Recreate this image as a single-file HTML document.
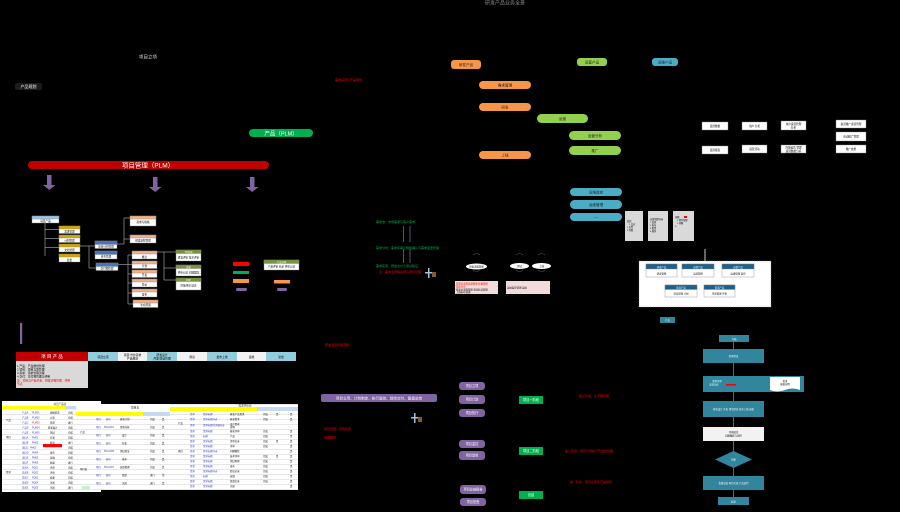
<!DOCTYPE html>
<html><head><meta charset="utf-8">
<style>
html,body{margin:0;padding:0;background:#000;}
svg{display:block;}
text{font-family:"Liberation Sans","Noto Sans CJK SC",sans-serif;}
</style></head><body>
<svg width="900" height="512" viewBox="0 0 900 512" xmlns="http://www.w3.org/2000/svg">
<defs>
<pattern id="rows" x="0" y="0" width="6" height="5" patternUnits="userSpaceOnUse">
<rect width="6" height="5" fill="#fff"/><line x1="0" y1="4.8" x2="6" y2="4.8" stroke="#bbb" stroke-width="0.4"/>
</pattern>
</defs>
<rect width="900" height="512" fill="#000"/>

<!-- title -->
<text x="505" y="4.5" font-size="5" fill="#8a8a8a" text-anchor="middle">研发产品业务全景</text>

<!-- top left -->
<text x="148" y="58.5" font-size="4.5" fill="#ddd" text-anchor="middle">项目立项</text>
<rect x="15" y="83" width="27" height="7" rx="2" fill="#1c1c1c"/>
<text x="28.5" y="88" font-size="4" fill="#fff" text-anchor="middle">产品规划</text>

<rect x="249" y="129" width="64" height="8" rx="4" fill="#00b050"/>
<text x="281" y="135.3" font-size="5.5" fill="#fff" text-anchor="middle">产品（PLM）</text>

<rect x="28" y="161" width="241" height="8" rx="4" fill="#c00000"/>
<text x="148" y="167.3" font-size="6.5" fill="#fff" text-anchor="middle">项目管理（PLM）</text>

<g fill="#8064a2">
<rect x="47" y="175" width="4.5" height="10"/><polygon points="43,185 55.5,185 49.2,190"/>
<rect x="153" y="177" width="4.5" height="10"/><polygon points="149,187 161.5,187 155.2,192"/>
<rect x="250" y="177" width="4.5" height="10"/><polygon points="246,187 258.5,187 252.2,192"/>
</g>

<!-- tree lines -->
<g stroke="#8a8a8a" stroke-width="0.8" fill="none">
<line x1="45" y1="223" x2="45" y2="256"/>
<line x1="45" y1="229.5" x2="59" y2="229.5"/>
<line x1="45" y1="238.5" x2="59" y2="238.5"/>
<line x1="45" y1="247.5" x2="59" y2="247.5"/>
<line x1="80" y1="246" x2="95" y2="246"/>
<line x1="89" y1="246" x2="89" y2="268"/>
<line x1="89" y1="268" x2="96" y2="268"/>
<line x1="117" y1="244" x2="124" y2="244"/>
<line x1="124" y1="218" x2="124" y2="244"/>
<line x1="124" y1="218" x2="130" y2="218"/>
<line x1="124" y1="239" x2="130" y2="239"/>
<line x1="117" y1="264.5" x2="132" y2="264.5"/>
<line x1="128" y1="255" x2="128" y2="304"/>
<line x1="128" y1="255" x2="132" y2="255"/>
<line x1="128" y1="274" x2="132" y2="274"/>
<line x1="128" y1="283" x2="132" y2="283"/>
<line x1="128" y1="293" x2="132" y2="293"/>
<line x1="128" y1="304" x2="133" y2="304"/>
<line x1="157" y1="252" x2="176" y2="252"/>
<line x1="164" y1="252" x2="164" y2="280"/>
<line x1="164" y1="268" x2="176" y2="268"/>
<line x1="164" y1="280" x2="176" y2="280"/>
</g>

<!-- tree boxes -->
<g stroke="#7f7f7f" stroke-width="0.4">
<rect x="32" y="216" width="27" height="7" fill="#fff"/><rect x="32" y="216" width="27" height="3" fill="#9dc3e6"/>
<rect x="59" y="226" width="21" height="7.5" fill="#fff"/><rect x="59" y="226" width="21" height="3" fill="#d4a700"/>
<rect x="59" y="235" width="21" height="7.5" fill="#fff"/><rect x="59" y="235" width="21" height="3" fill="#d4a700"/>
<rect x="59" y="244" width="21" height="8" fill="#fff"/><rect x="59" y="244" width="21" height="3" fill="#d4a700"/>
<rect x="59" y="254" width="21" height="8" fill="#fff"/><rect x="59" y="254" width="21" height="3" fill="#d4a700"/>
<rect x="95" y="241" width="22" height="7.5" fill="#fff"/><rect x="95" y="241" width="22" height="3.5" fill="#4472c4"/>
<rect x="95" y="251" width="22" height="8" fill="#fff"/><rect x="95" y="251" width="22" height="3.5" fill="#4472c4"/>
<rect x="96" y="263" width="22" height="7.5" fill="#fff"/><rect x="96" y="263" width="22" height="3.5" fill="#4472c4"/>
<rect x="130" y="216" width="26" height="10" fill="#fff"/><rect x="130" y="216" width="26" height="3" fill="#f4b183"/>
<rect x="130" y="235" width="26" height="8" fill="#fff"/><rect x="130" y="235" width="26" height="3" fill="#f4b183"/>
<rect x="132" y="251" width="25" height="8" fill="#fff"/><rect x="132" y="251" width="25" height="3" fill="#f4b183"/>
<rect x="132" y="261" width="25" height="7.5" fill="#fff"/><rect x="132" y="261" width="25" height="3" fill="#f4b183"/>
<rect x="132" y="270" width="25" height="7.5" fill="#fff"/><rect x="132" y="270" width="25" height="3" fill="#f4b183"/>
<rect x="132" y="279" width="25" height="8" fill="#fff"/><rect x="132" y="279" width="25" height="3" fill="#f4b183"/>
<rect x="132" y="289" width="25" height="8" fill="#fff"/><rect x="132" y="289" width="25" height="3" fill="#f4b183"/>
<rect x="133" y="300" width="25" height="7.5" fill="#fff"/><rect x="133" y="300" width="25" height="3" fill="#f4b183"/>
<rect x="176" y="250" width="25" height="11" fill="#fff"/><rect x="176" y="250" width="25" height="3.5" fill="#77933c"/>
<rect x="176" y="265" width="25" height="11" fill="#fff"/><rect x="176" y="265" width="25" height="3.5" fill="#77933c"/>
<rect x="176" y="278" width="25" height="12" fill="#fff"/><rect x="176" y="278" width="25" height="3.5" fill="#77933c"/>
<rect x="264" y="260" width="35" height="10" fill="#fff"/><rect x="264" y="260" width="35" height="3.5" fill="#77933c"/>
</g>
<g font-size="2.6" fill="#000" text-anchor="middle">
<text x="45.5" y="222">项目产品</text>
<text x="69.5" y="232.5">需求管理</text><text x="69.5" y="241.5">计划管理</text><text x="69.5" y="251">文档管理</text><text x="69.5" y="261">变更</text>
<text x="106" y="247.5">项目计划管理</text><text x="106" y="257.5">任务管理</text><text x="107" y="269.5">交付物管理</text>
<text x="143" y="223">需求与规格</text><text x="143" y="241.5">研发流程管理</text>
<text x="144.5" y="258">概念</text><text x="144.5" y="267">计划</text><text x="144.5" y="276">开发</text><text x="144.5" y="285.5">验证</text><text x="144.5" y="295.5">发布</text><text x="145.5" y="306">生命周期</text>
<text x="188.5" y="258.5">研发评审 技术评审</text><text x="188.5" y="273.5">评审记录 问题跟踪</text><text x="188.5" y="286.5">决策评审 结论</text>
<text x="281.5" y="267.5">产品评审 结论 评审记录</text>
</g>
<g font-size="2.4" fill="#fff" text-anchor="middle">
<text x="188.5" y="252.8">TR评审</text><text x="188.5" y="267.8">评审</text><text x="188.5" y="280.8">DCP</text><text x="281.5" y="262.8">产品评审</text>
</g>

<!-- legend -->
<rect x="233" y="262" width="16" height="4" fill="#ff0000"/>
<rect x="233" y="271" width="16" height="3" fill="#00b050"/>
<rect x="233" y="279" width="16" height="4" fill="#f79646"/>
<rect x="236" y="288" width="11" height="3" rx="1.5" fill="#8064a2"/>
<rect x="274" y="280" width="16" height="3.5" fill="#f79646"/>
<rect x="277" y="288" width="10" height="3" rx="1.5" fill="#8064a2"/>
<rect x="20" y="323" width="2.2" height="21" fill="#8064a2"/>

<!-- header row -->
<rect x="16" y="352" width="72" height="9" fill="#c00000"/>
<text x="52" y="358.2" font-size="4.5" fill="#fff" text-anchor="middle">项 目 产 品</text>
<rect x="88" y="352" width="30" height="9" fill="#92cddc"/>
<rect x="118" y="352" width="29" height="9" fill="#f2f2f2"/>
<rect x="147" y="352" width="30" height="9" fill="#92cddc"/>
<rect x="177" y="352" width="30" height="9" fill="#f2f2f2"/>
<rect x="207" y="352" width="30" height="9" fill="#92cddc"/>
<rect x="237" y="352" width="29" height="9" fill="#f2f2f2"/>
<rect x="266" y="352" width="30" height="9" fill="#92cddc"/>
<g font-size="2.8" fill="#000" text-anchor="middle">
<text x="103" y="357.8">项目立项</text><text x="132.5" y="356">项目计划/需求</text><text x="132.5" y="359.5">产品规划</text>
<text x="162" y="356">研发设计</text><text x="162" y="359.5">开发/验证管理</text>
<text x="192" y="357.8">测试</text><text x="222" y="357.8">发布上线</text><text x="251.5" y="357.8">运维</text><text x="281" y="357.8">复盘</text>
</g>
<rect x="16" y="361" width="72" height="27" fill="#d9d9d9"/>
<g font-size="2.8">
<text x="17" y="367" fill="#000">1.产品：产品规划管理</text>
<text x="17" y="370.5" fill="#000">2.项目：项目立项管理</text>
<text x="17" y="374" fill="#000">3.需求：需求管理流程</text>
<text x="17" y="377.5" fill="#000">4.交付：交付物管理与评审</text>
<text x="17" y="381.5" fill="#ff0000">注：项目与产品关系，研发流程管理，评审</text>
<text x="17" y="385" fill="#ff0000">节点</text>
</g>

<!-- table 1 -->
<rect x="2" y="401" width="99" height="91" fill="#fff"/>
<rect x="2" y="410" width="74" height="82" fill="url(#rows)"/>
<text x="60" y="404.8" font-size="2.6" fill="#333" text-anchor="middle">项目产品表</text>
<rect x="2" y="406" width="63" height="3.5" fill="#ffff00"/>
<rect x="65" y="406" width="11" height="3.5" fill="#c5d9f1"/>
<rect x="43" y="444" width="19" height="3.2" fill="#ff0000"/>
<g font-size="2.4">
<text x="22" y="413.5" fill="#33c">产品A</text><text x="32" y="413.5" fill="#33c">PLM01</text><text x="50" y="413.5" fill="#000">规划需求</text><text x="68" y="413.5" fill="#000">完成</text>
<text x="22" y="418.5" fill="#33c">产品B</text><text x="32" y="418.5" fill="#33c">PLM02</text><text x="50" y="418.5" fill="#000">立项</text><text x="68" y="418.5" fill="#000">完成</text>
<text x="6" y="421" fill="#000">产品</text>
<text x="22" y="423.5" fill="#33c">产品C</text><text x="32" y="423.5" fill="#f00">PLM03</text><text x="50" y="423.5" fill="#000">需求</text><text x="68" y="423.5" fill="#000">进行</text>
<text x="22" y="428.5" fill="#33c">产品D</text><text x="32" y="428.5" fill="#33c">PLM04</text><text x="48" y="428.5" fill="#000">研发设计</text><text x="68" y="428.5" fill="#000">完成</text>
<text x="22" y="433.5" fill="#33c">产品E</text><text x="32" y="433.5" fill="#33c">PLM05</text><text x="50" y="433.5" fill="#000">测试</text><text x="68" y="433.5" fill="#000">完成</text>
<text x="6" y="438" fill="#000">项目</text>
<text x="22" y="438.5" fill="#33c">项目A</text><text x="32" y="438.5" fill="#33c">PM01</text><text x="50" y="438.5" fill="#000">开发</text><text x="68" y="438.5" fill="#000">完成</text>
<text x="22" y="443.5" fill="#33c">项目B</text><text x="32" y="443.5" fill="#33c">PM02</text><text x="50" y="443.5" fill="#000">验证</text><text x="68" y="443.5" fill="#000">进行</text>
<text x="22" y="448.5" fill="#33c">项目C</text><text x="30" y="448.5" fill="#33c">PM03</text><text x="68" y="448.5" fill="#000">完成</text>
<text x="22" y="453.5" fill="#33c">项目D</text><text x="32" y="453.5" fill="#33c">PM04</text><text x="50" y="453.5" fill="#000">发布</text><text x="68" y="453.5" fill="#000">完成</text>
<text x="22" y="458.5" fill="#33c">项目E</text><text x="32" y="458.5" fill="#33c">PM05</text><text x="50" y="458.5" fill="#000">运维</text><text x="68" y="458.5" fill="#000">完成</text>
<text x="22" y="463.5" fill="#33c">项目F</text><text x="32" y="463.5" fill="#33c">PM06</text><text x="50" y="463.5" fill="#000">复盘</text><text x="68" y="463.5" fill="#000">进行</text>
<text x="6" y="473" fill="#000">需求</text>
<text x="22" y="468.5" fill="#33c">需求A</text><text x="32" y="468.5" fill="#33c">RQ01</text><text x="50" y="468.5" fill="#000">评审</text><text x="68" y="468.5" fill="#000">完成</text>
<text x="22" y="473.5" fill="#33c">需求B</text><text x="32" y="473.5" fill="#33c">RQ02</text><text x="50" y="473.5" fill="#000">评审</text><text x="68" y="473.5" fill="#000">完成</text>
<text x="22" y="478.5" fill="#33c">需求C</text><text x="32" y="478.5" fill="#33c">RQ03</text><text x="50" y="478.5" fill="#000">变更</text><text x="68" y="478.5" fill="#000">完成</text>
<text x="22" y="483.5" fill="#33c">需求D</text><text x="32" y="483.5" fill="#33c">RQ04</text><text x="50" y="483.5" fill="#000">关闭</text><text x="68" y="483.5" fill="#000">完成</text>
<text x="22" y="488.5" fill="#33c">需求E</text><text x="32" y="488.5" fill="#33c">RQ05</text><text x="50" y="488.5" fill="#000">关闭</text><text x="68" y="488.5" fill="#000">进行</text>
</g>

<!-- table 2 -->
<rect x="101" y="404" width="69" height="8" fill="#fff"/>
<rect x="76" y="411" width="94" height="79" fill="url(#rows)"/>
<text x="135" y="408.5" font-size="2.8" fill="#333" text-anchor="middle">项目表</text>
<rect x="76" y="412" width="67" height="4" fill="#ffff00"/>
<rect x="143" y="412" width="27" height="4" fill="#c5d9f1"/>
<g font-size="2.4">
<text x="96" y="420" fill="#33c">项目</text><text x="106" y="420" fill="#33c">编号</text><text x="120" y="420" fill="#000">研发计划</text><text x="150" y="420" fill="#000">完成</text><text x="162" y="420" fill="#000">是</text>
<text x="96" y="428" fill="#33c">项目</text><text x="104" y="428" fill="#33c">PM-A001</text><text x="120" y="428" fill="#000">需求分析</text><text x="150" y="428" fill="#000">完成</text><text x="162" y="428" fill="#000">是</text>
<text x="80" y="433" fill="#000">产品</text>
<text x="96" y="436" fill="#33c">项目</text><text x="106" y="436" fill="#33c">编号</text><text x="122" y="436" fill="#000">设计</text><text x="150" y="436" fill="#000">完成</text><text x="162" y="436" fill="#000">是</text>
<text x="96" y="444" fill="#33c">项目</text><text x="106" y="444" fill="#33c">编号</text><text x="122" y="444" fill="#000">开发</text><text x="150" y="444" fill="#000">完成</text><text x="162" y="444" fill="#000">是</text>
<text x="96" y="452" fill="#33c">项目</text><text x="104" y="452" fill="#33c">PM-A005</text><text x="120" y="452" fill="#000">测试验证</text><text x="150" y="452" fill="#000">完成</text><text x="162" y="452" fill="#000">是</text>
<text x="96" y="460" fill="#33c">项目</text><text x="106" y="460" fill="#33c">编号</text><text x="122" y="460" fill="#000">发布</text><text x="150" y="460" fill="#000">完成</text><text x="162" y="460" fill="#000">是</text>
<text x="80" y="470" fill="#000">项目表</text>
<text x="96" y="468" fill="#33c">项目</text><text x="104" y="468" fill="#33c">PM-A007</text><text x="120" y="468" fill="#000">运维管理</text><text x="150" y="468" fill="#000">完成</text><text x="162" y="468" fill="#000">是</text>
<text x="96" y="476" fill="#33c">项目</text><text x="106" y="476" fill="#33c">编号</text><text x="122" y="476" fill="#000">复盘</text><text x="150" y="476" fill="#000">进行</text><text x="162" y="476" fill="#000">否</text>
<text x="96" y="484" fill="#33c">项目</text><text x="106" y="484" fill="#33c">编号</text><text x="122" y="484" fill="#000">关闭</text><text x="150" y="484" fill="#000">进行</text><text x="162" y="484" fill="#000">否</text>
</g>
<rect x="82" y="486" width="8" height="3" fill="#c6efce"/>

<!-- table 3 -->
<rect x="170" y="404" width="128" height="86" fill="url(#rows)"/>
<text x="245" y="406.6" font-size="2.6" fill="#333" text-anchor="middle">需求评审表</text>
<rect x="170" y="407" width="87" height="4" fill="#ffff00"/>
<rect x="257" y="407" width="41" height="4" fill="#c5d9f1"/>
<g font-size="2.4">
<text x="190" y="415" fill="#33c">需求</text><text x="203" y="415" fill="#33c">需求标题</text><text x="230" y="415" fill="#000">研发产品需求</text><text x="263" y="415" fill="#000">完成</text><text x="276" y="415" fill="#000">是</text><text x="290" y="415" fill="#000">是</text>
<text x="190" y="420" fill="#33c">需求</text><text x="203" y="420" fill="#33c">需求标题内容</text><text x="230" y="420" fill="#000">研发需求</text><text x="263" y="420" fill="#000">完成</text><text x="290" y="420" fill="#000">是</text>
<text x="178" y="424" fill="#000">产品</text>
<text x="190" y="426" fill="#33c">需求</text><text x="203" y="426" fill="#33c">需求标题的详细内容</text><text x="230" y="425" fill="#000">设计需求</text><text x="230" y="428" fill="#000">说明</text>
<text x="190" y="432" fill="#33c">需求</text><text x="203" y="432" fill="#33c">需求标题</text><text x="230" y="432" fill="#000">研发评审</text><text x="263" y="432" fill="#000">完成</text><text x="290" y="432" fill="#000">是</text>
<text x="190" y="437" fill="#33c">需求</text><text x="203" y="437" fill="#33c">标题</text><text x="230" y="437" fill="#000">产品</text><text x="263" y="437" fill="#000">完成</text><text x="290" y="437" fill="#000">是</text>
<text x="190" y="442" fill="#33c">需求</text><text x="203" y="442" fill="#33c">需求标题</text><text x="230" y="442" fill="#000">评审记录</text><text x="263" y="442" fill="#000">完成</text><text x="276" y="442" fill="#000">是</text><text x="290" y="442" fill="#000">是</text>
<text x="190" y="447" fill="#33c">需求</text><text x="203" y="447" fill="#33c">需求标题</text><text x="230" y="447" fill="#000">评审</text><text x="263" y="447" fill="#000">完成</text><text x="290" y="447" fill="#000">是</text>
<text x="178" y="452" fill="#000">项目</text>
<text x="190" y="452" fill="#33c">需求</text><text x="203" y="452" fill="#33c">需求标题内容</text><text x="230" y="452" fill="#000">问题跟踪</text><text x="290" y="452" fill="#000">是</text>
<text x="190" y="457" fill="#33c">需求</text><text x="203" y="457" fill="#33c">需求标题</text><text x="230" y="457" fill="#000">技术评审</text><text x="263" y="457" fill="#000">完成</text><text x="276" y="457" fill="#000">是</text><text x="290" y="457" fill="#000">是</text>
<text x="190" y="462" fill="#33c">需求</text><text x="203" y="462" fill="#33c">需求标题</text><text x="230" y="462" fill="#000">测试用例</text><text x="263" y="462" fill="#000">完成</text><text x="290" y="462" fill="#000">是</text>
<text x="190" y="467" fill="#33c">需求</text><text x="203" y="467" fill="#33c">需求标题</text><text x="230" y="467" fill="#000">发布</text><text x="263" y="467" fill="#000">完成</text><text x="290" y="467" fill="#000">是</text>
<text x="190" y="472" fill="#33c">需求</text><text x="203" y="472" fill="#33c">需求标题内容</text><text x="230" y="472" fill="#000">验证记录</text><text x="263" y="472" fill="#000">完成</text><text x="290" y="472" fill="#000">是</text>
<text x="190" y="477" fill="#33c">需求</text><text x="203" y="477" fill="#33c">标题</text><text x="230" y="477" fill="#000">运维</text><text x="263" y="477" fill="#000">完成</text><text x="290" y="477" fill="#000">是</text>
<text x="190" y="482" fill="#33c">需求</text><text x="203" y="482" fill="#33c">需求标题</text><text x="230" y="482" fill="#000">复盘记录</text><text x="263" y="482" fill="#000">完成</text><text x="290" y="482" fill="#000">是</text>
<text x="190" y="487" fill="#33c">需求</text><text x="203" y="487" fill="#33c">需求标题</text><text x="230" y="487" fill="#000">关闭</text><text x="290" y="487" fill="#000">是</text>
</g>

<!-- middle column -->
<text x="335" y="81" font-size="3" fill="#ff0000">需求来源与产品规划</text>
<g font-size="3" fill="#00b050">
<text x="376" y="223.2">需求池：市场需求与客户需求</text>
<text x="376" y="249.2">需求分析：需求评审与规格确认与需求变更管理</text>
<text x="376" y="267.2">需求实现：研发交付与测试验证</text>
</g>
<text x="379" y="272.8" font-size="3" fill="#ff0000">注：需求全流程追溯与闭环管理</text>
<g stroke="#5a5070" stroke-width="1">
<line x1="403.5" y1="226" x2="403.5" y2="242"/><line x1="410" y1="226" x2="410" y2="242"/>
<line x1="403.5" y1="249" x2="403.5" y2="263"/><line x1="410" y1="249" x2="410" y2="263"/>
</g>
<g>
<rect x="428" y="268" width="1.5" height="10" fill="#9dc3e6"/><rect x="425" y="272" width="7" height="1.5" fill="#9dc3e6"/><rect x="432" y="272" width="4" height="5" fill="#8b5a2b"/>
<rect x="414" y="413" width="1.5" height="10" fill="#9dc3e6"/><rect x="411" y="417" width="7" height="1.5" fill="#9dc3e6"/><rect x="418" y="417" width="4" height="5" fill="#8b5a2b"/>
</g>
<text x="325" y="346" font-size="3" fill="#ff0000">研发项目管理流程</text>
<rect x="321" y="394" width="116" height="8" rx="2" fill="#8064a2"/>
<text x="379" y="399.5" font-size="3.6" fill="#fff" text-anchor="middle">项目立项、计划制定、执行监控、验收交付、复盘总结</text>
<text x="324" y="430" font-size="3" fill="#ff0000">项目管理，风险管控</text>
<text x="324" y="438.5" font-size="3" fill="#ff0000">进度跟踪</text>

<!-- center top pills -->
<g font-size="3.6" fill="#222" text-anchor="middle">
<rect x="451" y="60" width="30" height="9" rx="3" fill="#f79646"/><text x="466" y="65.8">研发产品</text>
<rect x="577" y="58" width="30" height="8" rx="3" fill="#92d050"/><text x="592" y="63.5">运营产品</text>
<rect x="652" y="58" width="26" height="8" rx="3" fill="#4bacc6"/><text x="665" y="63.5">运维产品</text>
<rect x="479" y="81" width="52" height="8" rx="4" fill="#f79646"/><text x="505" y="86.5">需求管理</text>
<rect x="479" y="103" width="52" height="8" rx="4" fill="#f79646"/><text x="505" y="108.5">研发</text>
<rect x="479" y="151" width="52" height="8" rx="4" fill="#f79646"/><text x="505" y="156.5">上线</text>
<rect x="537" y="114" width="51" height="9" rx="4.5" fill="#92d050"/><text x="562.5" y="120">运营</text>
<rect x="569" y="131" width="52" height="9" rx="4.5" fill="#92d050"/><text x="595" y="137">运营分析</text>
<rect x="569" y="146" width="52" height="9" rx="4.5" fill="#92d050"/><text x="595" y="152">推广</text>
<rect x="570" y="188" width="52" height="8" rx="4" fill="#4bacc6"/><text x="596" y="193.5">运维监控</text>
<rect x="570" y="200" width="52" height="9" rx="4.5" fill="#4bacc6"/><text x="596" y="206">运维管理</text>
<rect x="570" y="213" width="52" height="8" rx="4" fill="#4bacc6"/><text x="596" y="218.5">—</text>
</g>

<!-- gray boxes -->
<rect x="625" y="211" width="18" height="30" fill="#d9d9d9"/>
<rect x="648" y="211" width="20" height="30" fill="#d9d9d9"/>
<rect x="673" y="211" width="21" height="30" fill="#d9d9d9"/>
<g font-size="2.2" fill="#000">
<text x="627" y="222">监控：</text><text x="629" y="225">1.日志</text><text x="627" y="228">2.告警</text><text x="627" y="231">3.性能</text>
<text x="650" y="220">运维管理内容</text><text x="650" y="223">1.变更</text><text x="650" y="226">2.发布</text><text x="650" y="229">3.配置</text><text x="650" y="232">4.备份</text>
<text x="675" y="218">问题</text><text x="677" y="221">1.事件管理</text><text x="677" y="224">2.问题</text><text x="675" y="227">3.</text>
</g>
<rect x="684" y="216" width="3" height="2" fill="#ff0000"/>

<!-- top right white boxes -->
<g fill="#fff" stroke="#888" stroke-width="0.4">
<rect x="702" y="122" width="26" height="8"/><rect x="742" y="122" width="25" height="8"/><rect x="781" y="121" width="25" height="9"/>
<rect x="836" y="120" width="30" height="8"/><rect x="836" y="132" width="30" height="9"/><rect x="836" y="145" width="30" height="8"/>
<rect x="702" y="146" width="26" height="8"/><rect x="742" y="145" width="25" height="8"/><rect x="781" y="145" width="25" height="8"/>
</g>
<g font-size="2.6" fill="#000" text-anchor="middle">
<text x="715" y="127">运营数据</text><text x="754.5" y="127">用户 分析</text><text x="793.5" y="125">用户运营管理</text><text x="793.5" y="128.5">分析</text>
<text x="851" y="125">渠道推广运营管理</text><text x="851" y="137.5">活动推广管理</text><text x="851" y="150">推广效果</text>
<text x="715" y="151">运营报表</text><text x="754.5" y="150">运营活动</text><text x="793.5" y="148.5">内容运营 管理</text><text x="793.5" y="152">运营数据分析</text>
</g>

<!-- ellipses -->
<g stroke="#555" stroke-width="0.6" fill="none">
<path d="M473 255 Q476.5 252 480 255"/><path d="M473 270 Q476.5 273 480 270"/>
<path d="M516 255 Q519.5 252 523 255"/><path d="M516 270 Q519.5 273 523 270"/>
<path d="M538 255 Q541.5 252 545 255"/><path d="M538 270 Q541.5 273 545 270"/>
</g>
<ellipse cx="476.5" cy="266.5" rx="10.5" ry="3" fill="#fff"/>
<ellipse cx="519.5" cy="266" rx="9.5" ry="3" fill="#fff"/>
<ellipse cx="541.5" cy="266" rx="9.5" ry="3" fill="#fff"/>
<g font-size="2.4" fill="#000" text-anchor="middle">
<text x="476.5" y="267.4">研发流程管理</text><text x="519.5" y="267">测试</text><text x="541.5" y="267">上线</text>
</g>
<rect x="455" y="281" width="43" height="13" fill="#f2dcdb"/>
<rect x="506" y="281" width="44" height="13" fill="#f2dcdb"/>
<g font-size="2.4">
<text x="456" y="284.5" fill="#ff0000">需求全流程追溯管理 质量管理</text>
<text x="456" y="287.5" fill="#ff0000">需求评审</text>
<text x="456" y="290.5" fill="#000">研发全流程管理 测试验证管理</text>
<text x="456" y="293" fill="#000">上线发布管理</text>
<text x="507" y="288.5" fill="#000">运维监控管理 运维</text>
</g>

<!-- dashed box -->
<line x1="705" y1="249" x2="705" y2="261" stroke="#aaa" stroke-width="1.2"/>
<rect x="639" y="261" width="132" height="46" fill="#fff" stroke="#888" stroke-width="0.5" stroke-dasharray="1.5,1"/>
<g stroke="#888" stroke-width="0.4">
<rect x="646" y="264" width="31" height="13" fill="#fff"/><rect x="646" y="264" width="31" height="5" fill="#1f5f8b"/>
<rect x="682" y="264" width="32" height="13" fill="#fff"/><rect x="682" y="264" width="32" height="5" fill="#1f5f8b"/>
<rect x="722" y="264" width="32" height="13" fill="#fff"/><rect x="722" y="264" width="32" height="5" fill="#1f5f8b"/>
<rect x="665" y="285" width="32" height="12" fill="#fff"/><rect x="665" y="285" width="32" height="4.5" fill="#1f5f8b"/>
<rect x="704" y="285" width="31" height="12" fill="#fff"/><rect x="704" y="285" width="31" height="4.5" fill="#1f5f8b"/>
</g>
<g font-size="2.4" text-anchor="middle">
<text x="661.5" y="267.8" fill="#fff">研发产品</text><text x="698" y="267.8" fill="#fff">运营产品</text><text x="738" y="267.8" fill="#fff">运维产品</text>
<text x="681" y="288.5" fill="#fff">项目产品</text><text x="719.5" y="288.5" fill="#fff">需求产品</text>
<text x="661.5" y="274.5" fill="#000">研发管理</text><text x="698" y="274.5" fill="#000">运营管理</text><text x="738" y="274.5" fill="#000">运维管理 监控</text>
<text x="681" y="294.5" fill="#000">项目管理 计划</text><text x="719.5" y="294.5" fill="#000">需求管理 评审</text>
</g>
<rect x="660" y="317" width="15" height="6" fill="#31859c"/>
<text x="667.5" y="321" font-size="2.4" fill="#fff" text-anchor="middle">产品</text>

<!-- bottom center -->
<g font-size="3.2" fill="#fff" text-anchor="middle">
<rect x="459" y="382" width="26" height="8" rx="3" fill="#8064a2"/><text x="472" y="387.2">项目立项</text>
<rect x="459" y="395" width="26" height="9" rx="3" fill="#8064a2"/><text x="472" y="400.7">项目计划</text>
<rect x="459" y="409" width="26" height="8" rx="3" fill="#8064a2"/><text x="472" y="414.2">项目执行</text>
<rect x="459" y="440" width="26" height="8" rx="3" fill="#8064a2"/><text x="472" y="445.2">项目监控</text>
<rect x="459" y="451" width="26" height="9" rx="3" fill="#8064a2"/><text x="472" y="456.7">项目验收</text>
<rect x="460" y="485" width="26" height="9" rx="3" fill="#8064a2"/><text x="473" y="490.7">项目总结报告</text>
<rect x="460" y="498" width="26" height="8" rx="3" fill="#8064a2"/><text x="473" y="503.2">项目复盘</text>
<rect x="519" y="396" width="24" height="8" fill="#00b050"/><text x="531" y="401.2">项目一阶段</text>
<rect x="519" y="447" width="24" height="8" fill="#00b050"/><text x="531" y="452.2">项目二阶段</text>
<rect x="519" y="491" width="24" height="8" fill="#00b050"/><text x="531" y="496.2">总结</text>
</g>
<g font-size="3" fill="#ff0000">
<text x="579" y="396.8">第三阶段：全流程管理</text>
<text x="565" y="451.8">第二阶段：项目计划执行及监控管理</text>
<text x="570" y="482.8">第一阶段：项目立项及产品规划</text>
</g>

<!-- flowchart -->
<line x1="733.5" y1="342" x2="733.5" y2="497" stroke="#2e75b6" stroke-width="1"/>
<g fill="#31859c">
<rect x="719" y="335" width="30" height="7"/>
<rect x="703" y="349" width="61" height="14"/>
<rect x="703" y="376" width="101" height="16"/>
<rect x="703" y="401" width="61" height="16"/>
<rect x="703" y="476" width="61" height="14"/>
<rect x="718" y="497" width="31" height="8"/>
<polygon points="733.5,451 752,459.5 733.5,468 715,459.5"/>
</g>
<rect x="703" y="427" width="61" height="14" fill="#f2f2f2"/>
<path d="M770 377 H800 V390 Q792 387 785 390 Q777 393 770 390 Z" fill="#fff"/>
<rect x="726" y="384" width="10" height="1.6" fill="#ff0000"/>
<g font-size="2.4" text-anchor="middle">
<text x="734" y="339.8" fill="#fff">开始</text>
<text x="733.5" y="357" fill="#fff">需求提出</text>
<text x="717" y="382" fill="#fff">需求评审</text>
<text x="714" y="385.5" fill="#fff">需求分析</text>
<text x="785" y="382" fill="#000">需求</text>
<text x="785" y="385" fill="#000">规格说明</text>
<text x="733.5" y="410" fill="#fff">研发设计 开发 测试验证 发布上线 运维</text>
<text x="733.5" y="433" fill="#000">评审结论</text>
<text x="733.5" y="436.5" fill="#000">问题跟踪与闭环</text>
<text x="733.5" y="460.5" fill="#fff">判断</text>
<text x="733.5" y="484" fill="#fff">复盘总结 项目关闭 产品迭代</text>
<text x="733.5" y="502.5" fill="#fff">结束</text>
</g>
</svg>
</body></html>
